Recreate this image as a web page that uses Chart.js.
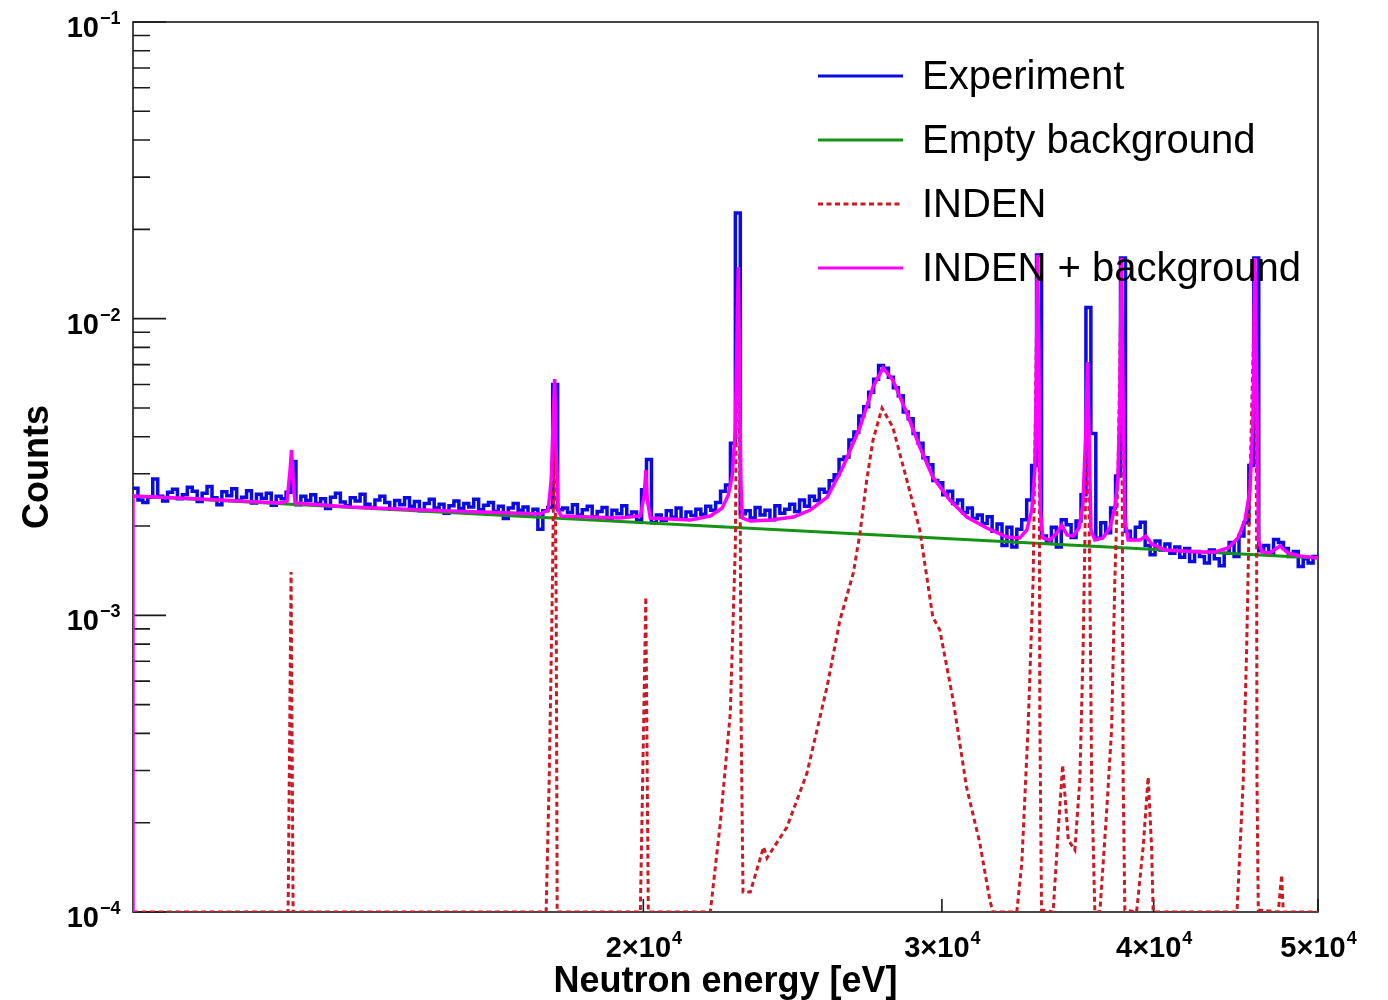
<!DOCTYPE html>
<html>
<head>
<meta charset="utf-8">
<title>Neutron capture spectrum</title>
<script src="https://cdn.jsdelivr.net/npm/chart.js@4.4.1/dist/chart.umd.min.js"></script>
<style>
  body { margin: 0; background: #fff; }
  #spec { display: block; }
</style>
</head>
<body>
<canvas id="spec" width="1388" height="1000"></canvas>
<script>
// energy range of the histogram (eV), bins are equal in log(E)
const E_MIN = 1e4, E_MAX = 5e4;

// measured counts per bin
const experiment = [
  2.68e-3, 2.45e-3, 2.40e-3, 2.50e-3, 2.88e-3, 2.52e-3, 2.43e-3, 2.60e-3, 2.66e-3, 2.47e-3,
  2.55e-3, 2.70e-3, 2.62e-3, 2.42e-3, 2.58e-3, 2.72e-3, 2.49e-3, 2.36e-3, 2.61e-3, 2.53e-3,
  2.67e-3, 2.44e-3, 2.50e-3, 2.63e-3, 2.39e-3, 2.56e-3, 2.48e-3, 2.58e-3, 2.35e-3, 2.52e-3,
  2.47e-3, 2.60e-3, 3.30e-3, 2.36e-3, 2.52e-3, 2.44e-3, 2.55e-3, 2.38e-3, 2.47e-3, 2.29e-3,
  2.50e-3, 2.58e-3, 2.41e-3, 2.34e-3, 2.49e-3, 2.43e-3, 2.56e-3, 2.37e-3, 2.31e-3, 2.45e-3,
  2.52e-3, 2.40e-3, 2.28e-3, 2.44e-3, 2.36e-3, 2.49e-3, 2.33e-3, 2.42e-3, 2.25e-3, 2.38e-3,
  2.46e-3, 2.30e-3, 2.37e-3, 2.21e-3, 2.34e-3, 2.43e-3, 2.29e-3, 2.38e-3, 2.32e-3, 2.46e-3,
  2.27e-3, 2.35e-3, 2.40e-3, 2.24e-3, 2.33e-3, 2.12e-3, 2.30e-3, 2.38e-3, 2.26e-3, 2.32e-3,
  2.19e-3, 2.28e-3, 1.95e-3, 2.25e-3, 2.31e-3, 6.00e-3, 2.27e-3, 2.30e-3, 2.22e-3, 2.36e-3,
  2.18e-3, 2.27e-3, 2.33e-3, 2.15e-3, 2.24e-3, 2.31e-3, 2.12e-3, 2.26e-3, 2.20e-3, 2.34e-3,
  2.16e-3, 2.23e-3, 2.09e-3, 2.65e-3, 3.35e-3, 2.05e-3, 2.18e-3, 2.09e-3, 2.25e-3, 2.14e-3,
  2.30e-3, 2.11e-3, 2.23e-3, 2.17e-3, 2.28e-3, 2.19e-3, 2.33e-3, 2.26e-3, 2.40e-3, 2.62e-3,
  2.75e-3, 3.80e-3, 2.27e-2, 2.20e-3, 2.25e-3, 2.13e-3, 2.31e-3, 2.18e-3, 2.26e-3, 2.10e-3,
  2.34e-3, 2.21e-3, 2.28e-3, 2.37e-3, 2.24e-3, 2.45e-3, 2.33e-3, 2.52e-3, 2.44e-3, 2.66e-3,
  2.60e-3, 2.84e-3, 2.98e-3, 3.35e-3, 3.42e-3, 3.90e-3, 4.15e-3, 4.70e-3, 5.05e-3, 5.65e-3,
  6.25e-3, 6.95e-3, 6.80e-3, 6.35e-3, 5.85e-3, 5.50e-3, 4.85e-3, 4.60e-3, 4.10e-3, 3.80e-3,
  3.40e-3, 3.22e-3, 2.85e-3, 2.80e-3, 2.55e-3, 2.62e-3, 2.38e-3, 2.45e-3, 2.22e-3, 2.30e-3,
  2.12e-3, 2.18e-3, 2.04e-3, 2.15e-3, 1.92e-3, 2.03e-3, 1.72e-3, 1.98e-3, 1.70e-3, 1.95e-3,
  2.10e-3, 2.45e-3, 3.20e-3, 1.64e-2, 1.85e-3, 1.78e-3, 1.98e-3, 1.70e-3, 2.10e-3, 2.02e-3,
  1.83e-3, 2.08e-3, 2.55e-3, 1.09e-2, 4.10e-3, 1.82e-3, 2.05e-3, 1.90e-3, 2.30e-3, 2.95e-3,
  1.60e-2, 1.92e-3, 1.80e-3, 1.98e-3, 2.06e-3, 1.72e-3, 1.60e-3, 1.78e-3, 1.66e-3, 1.74e-3,
  1.62e-3, 1.70e-3, 1.57e-3, 1.68e-3, 1.52e-3, 1.64e-3, 1.58e-3, 1.50e-3, 1.66e-3, 1.55e-3,
  1.47e-3, 1.62e-3, 1.76e-3, 1.58e-3, 1.85e-3, 2.05e-3, 3.20e-3, 1.60e-2, 1.65e-3, 1.72e-3,
  1.60e-3, 1.80e-3, 1.76e-3, 1.68e-3, 1.58e-3, 1.64e-3, 1.46e-3, 1.55e-3, 1.50e-3, 1.58e-3
];

// empty-target background
const bgEnergy = [1e4, 5e4];
const bgCounts = [2.525e-3, 1.561e-3];

// INDEN evaluation folded with the response, plus background
const fitEnergy = [
  1.0000e4, 1.0000e4, 1.0953e4, 1.2211e4, 1.2328e4, 1.2378e4, 1.2403e4, 1.2429e4, 1.2463e4, 1.3427e4,
  1.5381e4, 1.7385e4, 1.7575e4, 1.7647e4, 1.7695e4, 1.7731e4, 1.7767e4, 1.7815e4, 1.7888e4, 1.9384e4,
  1.9918e4, 2.0026e4, 2.0067e4, 2.0108e4, 2.0190e4, 2.1317e4, 2.1904e4, 2.2263e4, 2.2446e4, 2.2568e4,
  2.2661e4, 2.2722e4, 2.2753e4, 2.2784e4, 2.2831e4, 2.2877e4, 2.3127e4, 2.3763e4, 2.4518e4, 2.5091e4,
  2.5677e4, 2.6229e4, 2.6843e4, 2.7321e4, 2.7695e4, 2.8064e4, 2.8604e4, 2.9113e4, 2.9632e4, 3.0325e4,
  3.1033e4, 3.1888e4, 3.2765e4, 3.3349e4, 3.3668e4, 3.3898e4, 3.4036e4, 3.4105e4, 3.4152e4, 3.4222e4,
  3.4292e4, 3.4408e4, 3.4737e4, 3.5075e4, 3.5308e4, 3.5556e4, 3.5847e4, 3.6141e4, 3.6330e4, 3.6478e4,
  3.6559e4, 3.6633e4, 3.6733e4, 3.6927e4, 3.7331e4, 3.7688e4, 3.7944e4, 3.8099e4, 3.8203e4, 3.8281e4,
  3.8359e4, 3.8463e4, 3.8634e4, 3.9256e4, 3.9577e4, 3.9900e4, 4.0612e4, 4.2596e4, 4.3472e4, 4.4245e4,
  4.4851e4, 4.5279e4, 4.5587e4, 4.5774e4, 4.5898e4, 4.6023e4, 4.6117e4, 4.6337e4, 4.6842e4, 4.7482e4,
  4.8000e4, 4.8789e4, 5.0000e4
];
const fitCounts = [
  1.000e-4, 2.525e-3, 2.467e-3, 2.391e-3, 2.428e-3, 3.089e-3, 3.609e-3, 2.859e-3, 2.391e-3, 2.318e-3,
  2.247e-3, 2.196e-3, 2.265e-3, 2.859e-3, 4.553e-3, 6.259e-3, 3.609e-3, 2.265e-3, 2.162e-3, 2.128e-3,
  2.162e-3, 2.545e-3, 3.089e-3, 2.447e-3, 2.128e-3, 2.096e-3, 2.162e-3, 2.300e-3, 2.545e-3, 2.972e-3,
  4.214e-3, 9.896e-3, 1.493e-2, 7.840e-3, 2.859e-3, 2.128e-3, 2.079e-3, 2.096e-3, 2.145e-3, 2.265e-3,
  2.505e-3, 3.162e-3, 4.313e-3, 5.884e-3, 6.818e-3, 6.211e-3, 4.808e-3, 3.694e-3, 2.926e-3, 2.447e-3,
  2.145e-3, 1.970e-3, 1.837e-3, 1.823e-3, 1.939e-3, 2.265e-3, 3.089e-3, 6.211e-3, 1.639e-2, 7.840e-3,
  2.265e-3, 1.823e-3, 1.795e-3, 1.895e-3, 2.016e-3, 1.866e-3, 1.851e-3, 1.970e-3, 2.354e-3, 4.214e-3,
  7.143e-3, 4.214e-3, 1.939e-3, 1.795e-3, 1.823e-3, 1.970e-3, 2.300e-3, 2.859e-3, 5.320e-3, 1.601e-2,
  6.211e-3, 2.096e-3, 1.795e-3, 1.795e-3, 1.851e-3, 1.740e-3, 1.661e-3, 1.635e-3, 1.635e-3, 1.686e-3,
  1.823e-3, 2.096e-3, 2.645e-3, 4.553e-3, 1.601e-2, 5.320e-3, 1.795e-3, 1.635e-3, 1.622e-3, 1.713e-3,
  1.622e-3, 1.585e-3, 1.561e-3
];

// INDEN alone (floor of the plot where it vanishes)
const indenEnergy = [
  1.0000e4, 1.2345e4, 1.2395e4, 1.2429e4, 1.7526e4, 1.7599e4, 1.7671e4, 1.7707e4, 1.7731e4, 1.7767e4,
  1.7791e4, 1.9918e4, 1.9972e4, 2.0067e4, 2.0135e4, 2.1904e4, 2.2203e4, 2.2507e4, 2.2661e4, 2.2722e4,
  2.2753e4, 2.2815e4, 2.2837e4, 2.2899e4, 2.3127e4, 2.3548e4, 2.3657e4, 2.4309e4, 2.4978e4, 2.5666e4,
  2.6122e4, 2.6600e4, 2.6843e4, 2.7088e4, 2.7321e4, 2.7657e4, 2.8064e4, 2.8604e4, 2.9113e4, 2.9632e4,
  2.9915e4, 3.0462e4, 3.1021e4, 3.1586e4, 3.2018e4, 3.2149e4, 3.3213e4, 3.3440e4, 3.3728e4, 3.3958e4,
  3.4059e4, 3.4152e4, 3.4245e4, 3.4268e4, 3.4347e4, 3.4893e4, 3.5137e4, 3.5348e4, 3.5619e4, 3.5937e4,
  3.6182e4, 3.6345e4, 3.6478e4, 3.6559e4, 3.6677e4, 3.6768e4, 3.6927e4, 3.7179e4, 3.7519e4, 3.7776e4,
  3.7944e4, 3.8099e4, 3.8281e4, 3.8343e4, 3.8375e4, 3.8463e4, 3.9080e4, 3.9432e4, 3.9701e4, 3.9885e4,
  3.9971e4, 4.4790e4, 4.5175e4, 4.5384e4, 4.5587e4, 4.5898e4, 4.6003e4, 4.6023e4, 4.6105e4, 4.7373e4,
  4.7592e4, 4.7695e4, 5.0000e4
];
const indenCounts = [
  1.000e-4, 1.000e-4, 1.400e-3, 1.000e-4, 1.000e-4, 2.786e-4, 1.126e-3, 2.859e-3, 4.150e-3, 1.126e-3,
  1.000e-4, 1.000e-4, 2.386e-4, 1.153e-3, 1.000e-4, 1.000e-4, 1.995e-4, 4.686e-4, 1.700e-3, 1.156e-2,
  1.299e-2, 1.939e-3, 4.686e-4, 1.168e-4, 1.168e-4, 1.656e-4, 1.521e-4, 1.934e-4, 2.942e-4, 5.734e-4,
  9.645e-4, 1.389e-3, 1.895e-3, 2.859e-3, 3.898e-3, 4.998e-3, 4.313e-3, 2.859e-3, 1.939e-3, 9.871e-4,
  8.924e-4, 5.183e-4, 2.638e-4, 1.708e-4, 1.098e-4, 1.000e-4, 1.000e-4, 1.463e-4, 4.203e-4, 1.315e-3,
  4.553e-3, 1.471e-2, 2.859e-3, 4.686e-4, 1.016e-4, 1.000e-4, 1.890e-4, 3.129e-4, 1.749e-4, 1.618e-4,
  2.786e-4, 7.820e-4, 2.859e-3, 5.402e-3, 1.315e-3, 2.786e-4, 1.000e-4, 1.000e-4, 2.157e-4, 4.106e-4,
  1.315e-3, 2.859e-3, 1.425e-2, 1.315e-3, 2.786e-4, 1.016e-4, 1.000e-4, 1.656e-4, 2.852e-4, 1.656e-4,
  1.000e-4, 1.000e-4, 2.786e-4, 7.820e-4, 2.859e-3, 1.437e-2, 1.700e-3, 2.786e-4, 1.016e-4, 1.000e-4,
  1.333e-4, 1.000e-4, 1.000e-4
];

// axis decorations
const xTicks = [2e4, 3e4, 4e4, 5e4];
const xTickLabels = [['2\u00d710', '4'], ['3\u00d710', '4'], ['4\u00d710', '4'], ['5\u00d710', '4']];
const yTicks = [1e-4, 1e-3, 1e-2, 1e-1];
const yTickLabels = [['10', '\u22124'], ['10', '\u22123'], ['10', '\u22122'], ['10', '\u22121']];

const COLORS = {
  exp: '#0a0ae2',
  bg: '#149414',
  inden: '#cc1a24',
  fit: '#ff00ff'
};
const RED_DASH = [5, 3.5];
const FONT = "'Liberation Sans', Arial, Helvetica, sans-serif";

// histogram -> step polyline (left and right edge of each bin)
function histPoints(vals) {
  const n = vals.length, pts = [];
  const ratio = E_MAX / E_MIN;
  for (let i = 0; i < n; i++) {
    const lo = E_MIN * Math.pow(ratio, i / n);
    const hi = E_MIN * Math.pow(ratio, (i + 1) / n);
    pts.push({x: lo, y: vals[i]}, {x: hi, y: vals[i]});
  }
  return pts;
}
const zip = (xs, ys) => xs.map((x, i) => ({x: x, y: ys[i]}));

const legendItems = [
  {label: 'Experiment', color: COLORS.exp, dash: []},
  {label: 'Empty background', color: COLORS.bg, dash: []},
  {label: 'INDEN', color: COLORS.inden, dash: RED_DASH},
  {label: 'INDEN + background', color: COLORS.fit, dash: []}
];

function drawPower(ctx, base, sup, x, baseY, supY, align) {
  ctx.font = 'bold 29px ' + FONT;
  const wb = ctx.measureText(base).width;
  ctx.font = 'bold 18px ' + FONT;
  const ws = ctx.measureText(sup).width;
  let left;
  if (align === 'right') left = x - wb;
  else left = x - (wb + ws) / 2;
  ctx.textAlign = 'left';
  ctx.textBaseline = 'alphabetic';
  ctx.font = 'bold 29px ' + FONT;
  ctx.fillText(base, left, baseY);
  ctx.font = 'bold 18px ' + FONT;
  ctx.fillText(sup, left + wb + 1, supY);
}

const frame = {
  id: 'frame',
  beforeDatasetsDraw(chart) {
    const {ctx, chartArea: a} = chart;
    const x = chart.scales.x, y = chart.scales.y;
    ctx.save();
    ctx.strokeStyle = '#1a1a1a';
    ctx.lineWidth = 1.6;
    ctx.strokeRect(a.left, a.top, a.right - a.left, a.bottom - a.top);
    ctx.beginPath();
    for (let dec = -4; dec <= -1; dec++) {
      for (let m = 1; m <= 9; m++) {
        const v = m * Math.pow(10, dec);
        if (v > y.max * 1.0001) continue;
        const py = y.getPixelForValue(v);
        ctx.moveTo(a.left, py);
        ctx.lineTo(a.left + (m === 1 ? 33 : 17), py);
      }
    }
    xTicks.forEach(v => {
      const px = x.getPixelForValue(v);
      ctx.moveTo(px, a.bottom);
      ctx.lineTo(px, a.bottom - 13);
    });
    ctx.stroke();
    ctx.restore();
  },
  afterDraw(chart) {
    const {ctx, chartArea: a} = chart;
    const x = chart.scales.x, y = chart.scales.y;
    ctx.save();
    ctx.fillStyle = '#000';

    yTicks.forEach((v, i) => {
      const py = y.getPixelForValue(v);
      drawPower(ctx, yTickLabels[i][0], yTickLabels[i][1], 99, py + 15, py + 2, 'right');
    });
    xTicks.forEach((v, i) => {
      const px = x.getPixelForValue(v);
      drawPower(ctx, xTickLabels[i][0], xTickLabels[i][1], px, 957, 944, 'center');
    });

    // axis titles
    ctx.font = 'bold 36px ' + FONT;
    ctx.textAlign = 'center';
    ctx.textBaseline = 'alphabetic';
    ctx.fillText('Neutron energy [eV]', (a.left + a.right) / 2, 992);
    ctx.save();
    ctx.translate(48, (a.top + a.bottom) / 2);
    ctx.rotate(-Math.PI / 2);
    ctx.fillText('Counts', 0, 0);
    ctx.restore();

    // legend
    legendItems.forEach((it, i) => {
      const ly = 76 + 64 * i;
      ctx.strokeStyle = it.color;
      ctx.lineWidth = 3;
      ctx.setLineDash(it.dash);
      ctx.beginPath();
      ctx.moveTo(818, ly);
      ctx.lineTo(903, ly);
      ctx.stroke();
      ctx.setLineDash([]);
      ctx.font = '40px ' + FONT;
      ctx.textAlign = 'left';
      ctx.fillStyle = '#000';
      ctx.fillText(it.label, 922, ly + 13);
    });
    ctx.restore();
  }
};

new Chart(document.getElementById('spec'), {
  type: 'line',
  data: {
    datasets: [
      {label: 'INDEN + background', data: zip(fitEnergy, fitCounts), borderColor: COLORS.fit,
       borderWidth: 3.5, pointRadius: 0, tension: 0, order: 0},
      {label: 'INDEN', data: zip(indenEnergy, indenCounts), borderColor: COLORS.inden,
       borderWidth: 3, borderDash: RED_DASH, pointRadius: 0, tension: 0, order: 1},
      {label: 'Empty background', data: zip(bgEnergy, bgCounts), borderColor: COLORS.bg,
       borderWidth: 3, pointRadius: 0, order: 2},
      {label: 'Experiment', data: histPoints(experiment), borderColor: COLORS.exp,
       borderWidth: 3.5, pointRadius: 0, tension: 0, order: 3}
    ]
  },
  options: {
    responsive: false,
    animation: false,
    devicePixelRatio: 1,
    layout: {padding: {left: 133, right: 70, top: 22, bottom: 88}},
    plugins: {legend: {display: false}, tooltip: {enabled: false}},
    scales: {
      x: {type: 'logarithmic', min: E_MIN, max: E_MAX, display: false},
      y: {type: 'logarithmic', min: 1e-4, max: 1e-1, display: false}
    }
  },
  plugins: [frame]
});
</script>
</body>
</html>
